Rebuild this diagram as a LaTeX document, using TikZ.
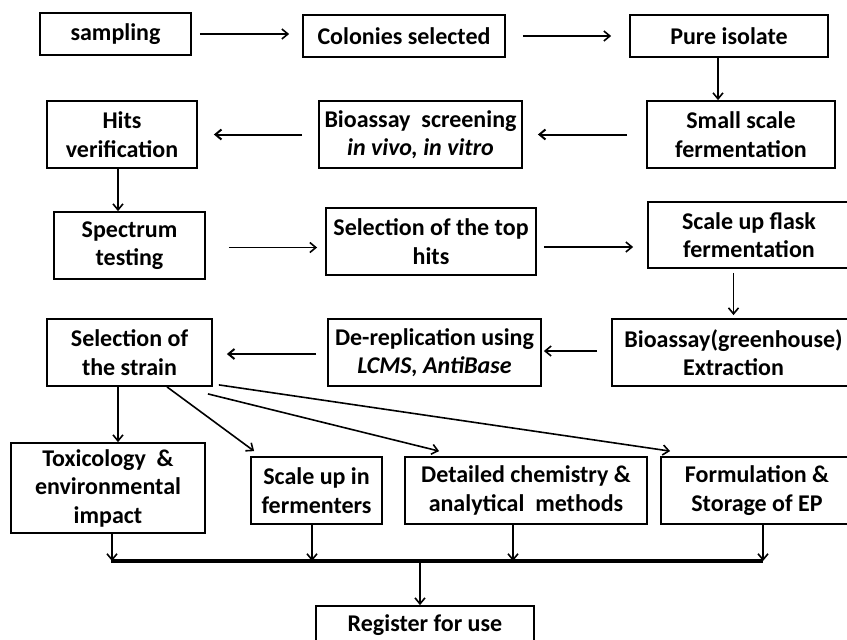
\documentclass[tikz,border=0pt]{standalone}
\usepackage{fontspec}
\setmainfont{Carlito}
\usetikzlibrary{arrows.meta}

\begin{document}
\begin{tikzpicture}[x=1pt, y=-1pt, >={Straight Barb[length=6pt,width=10pt]}, line width=1.6pt,
    box/.style 2 args={draw, line width=1.8pt, inner sep=0pt, align=center,
        minimum width=#1pt, minimum height=#2pt, font=\fontsize{24}{28.5}\selectfont\bfseries}]
\useasboundingbox (0,0) rectangle (847,640);
\clip (0,0) rectangle (847,640);

\node[box={151}{42}] (samp) at (115.5,34) {sampling};
\node[box={202}{42}] (colon) at (404,36) {Colonies selected};
\node[box={198}{42}] (pure) at (729,36) {Pure isolate};

\node[box={150}{67}] (hits) at (122,134.5) {Hits\\verification};
\node[box={203}{67}] (bioscr) at (420.5,134.5) {Bioassay\ \ screening\\\textit{in vivo, in vitro}};
\node[box={188}{67}] (small) at (741,134.5) {Small scale\\fermentation};

\node[box={151}{67}] (spec) at (129.5,245.5) {Spectrum\\testing};
\node[box={210}{67}] (seltop) at (431,241.5) {Selection of the top\\hits};
\node[box={202}{66}] (flask) at (749,235) {Scale up flask\\fermentation};

\node[box={165}{67}] (strain) at (129.5,352.5) {Selection of\\the strain};
\node[box={213}{67}] (derep) at (434.5,352.5) {De-replication using\\\textit{LCMS, AntiBase}};
\node[box={243}{67}] (green) at (733.5,352.5) {Bioassay(greenhouse)\\Extraction};

\node[box={194}{90}] (tox) at (108,488) {Toxicology\ \ \&\\environmental\\impact};
\node[box={131}{67}] (scaleup) at (316.5,490.5) {Scale up in\\fermenters};
\node[box={242}{67}] (chem) at (526,490.5) {Detailed chemistry \&\\analytical\ \ methods};
\node[box={192}{67}] (form) at (757,490.5) {Formulation \&\\Storage of EP};

\node[box={218}{67}, text height=24pt, text depth=40pt] (reg) at (425,639.5) {Register for use};

\draw[->, shorten <=8pt, shorten >=13pt] (samp.east) -- (samp.east -| colon.west);
\draw[->, shorten <=17pt, shorten >=18pt] (colon.east) -- (colon.east -| pure.west);
\draw[->] ([xshift=-11pt]pure.south) -- ([xshift=-11pt]pure.south |- small.north);
\draw[->, line width=2pt, shorten <=19pt, shorten >=15pt] (small.west) -- (small.west -| bioscr.east);
\draw[->, line width=2pt, shorten <=16pt, shorten >=16pt] (bioscr.west) -- (bioscr.west -| hits.east);
\draw[->] ([xshift=-4pt]hits.south) -- ([xshift=-4pt]hits.south |- spec.north);
\draw[->, shorten <=23pt, shorten >=8pt] ([yshift=-2pt]spec.east) -- ([yshift=-2pt]spec.east -| seltop.west);
\draw[->, shorten <=7pt, shorten >=14pt] ([yshift=-5.5pt]seltop.east) -- ([yshift=-5.5pt]seltop.east -| flask.west);
\draw[->, shorten <=4pt, shorten >=3pt] (green.north |- flask.south) -- (green.north);
\draw[->, shorten <=14pt, shorten >=2pt] ([yshift=1.5pt]green.west) -- ([yshift=1.5pt]green.west -| derep.east);
\draw[->, line width=2pt, shorten <=11pt, shorten >=14pt] ([yshift=-1.5pt]derep.west) -- ([yshift=-1.5pt]derep.west -| strain.east);

\draw[->] ([xshift=-11.5pt]strain.south) -- ([xshift=-11.5pt]strain.south |- tox.north);
\draw[->] ([xshift=37.5pt]strain.south) -- ([shift={(4,-5)}]scaleup.north west);
\draw[->] ([shift={(-5,7)}]strain.south east) -- ([shift={(35,-5)}]chem.north west);
\draw[->] ([shift={(6,-2)}]strain.south east) -- ([shift={(10,-5)}]form.north west);

\coordinate (busl) at (111,561);
\coordinate (busr) at (763,561);
\foreach \n/\s in {tox/4, scaleup/-4.5, chem/-13, form/6}
{
    \draw[->] ([xshift=\s pt]\n.south) -- ([xshift=\s pt]\n.south |- busl);
}
\draw[line width=3.5pt] (busl) -- (busr);
\draw[->] ([xshift=-5pt]reg.north |- busl) -- ([xshift=-5pt]reg.north);

\end{tikzpicture}
\end{document}
